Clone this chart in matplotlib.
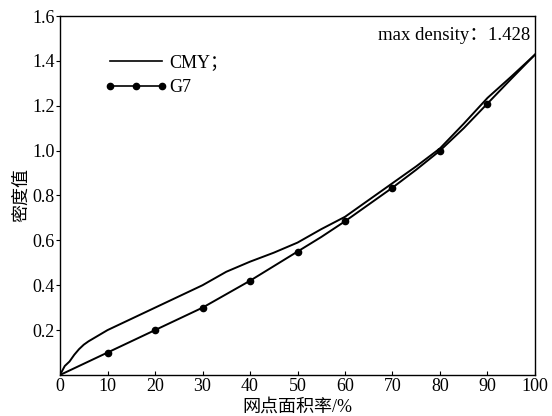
import matplotlib
matplotlib.use("Agg")
import matplotlib.pyplot as plt
from matplotlib.lines import Line2D

plt.rcParams['font.family'] = ['Liberation Serif', 'Noto Sans CJK SC']
plt.rcParams['font.size'] = 13

# dot area rate (%)
area = [0, 1, 2, 3, 4, 5, 6, 8, 10, 15, 20, 25, 30, 35, 40, 45, 50, 55,
        60, 65, 70, 75, 80, 85, 90, 95, 100]
cmy = [0, 0.04, 0.06, 0.09, 0.115, 0.135, 0.15, 0.175, 0.20, 0.25, 0.30,
       0.35, 0.40, 0.46, 0.505, 0.545, 0.59, 0.65, 0.705, 0.78, 0.855,
       0.93, 1.01, 1.12, 1.235, 1.33, 1.428]

g7_area = [0, 5, 10, 15, 20, 25, 30, 35, 40, 45, 50, 55, 60, 65, 70, 75,
           80, 85, 90, 95, 100]
g7 = [0, 0.05, 0.10, 0.15, 0.20, 0.25, 0.30, 0.36, 0.42, 0.485, 0.55,
      0.615, 0.685, 0.76, 0.835, 0.915, 1.0, 1.10, 1.21, 1.32, 1.428]
g7_marks = [10, 20, 30, 40, 50, 60, 70, 80, 90]

fig = plt.figure(figsize=(5.52, 4.16), dpi=100)
ax = fig.add_axes([0.1087, 0.0986, 0.8605, 0.8629])

ax.plot(area, cmy, color='black', lw=1.4)
ax.plot(g7_area, g7, color='black', lw=1.4, marker='o', ms=4.5,
        markevery=[g7_area.index(v) for v in g7_marks])

ax.set_xlim(0, 100)
ax.set_ylim(0, 1.6)
ax.set_xticks(range(0, 101, 10))
ax.set_yticks([0.2, 0.4, 0.6, 0.8, 1.0, 1.2, 1.4, 1.6])
ax.set_yticklabels(['0.2', '0.4', '0.6', '0.8', '1.0', '1.2', '1.4', '1.6'])
ax.tick_params(axis='x', direction='in', length=3, width=0.8, pad=2)
ax.tick_params(axis='y', direction='out', length=3, width=0.8, pad=1)
for s in ax.spines.values():
    s.set_linewidth(1.0)

ax.set_xlabel('网点面积率/%', labelpad=3)
ax.set_ylabel('密度值', labelpad=1)

ax.text(0.989, 0.947, 'max density：1.428', transform=ax.transAxes,
        ha='right', va='center', fontsize=13.5)

handles = [Line2D([], [], color='black', lw=1.2),
           Line2D([], [], color='black', lw=1.2, marker='o', ms=4.5)]
ax.legend(handles, ['CMY；', 'G7'], loc='upper left',
          bbox_to_anchor=(0.094, 0.894), frameon=False, numpoints=3,
          handlelength=3.5, handletextpad=0.1, labelspacing=0.45,
          borderpad=0, borderaxespad=0)

fig.savefig('out.png', dpi=100)
